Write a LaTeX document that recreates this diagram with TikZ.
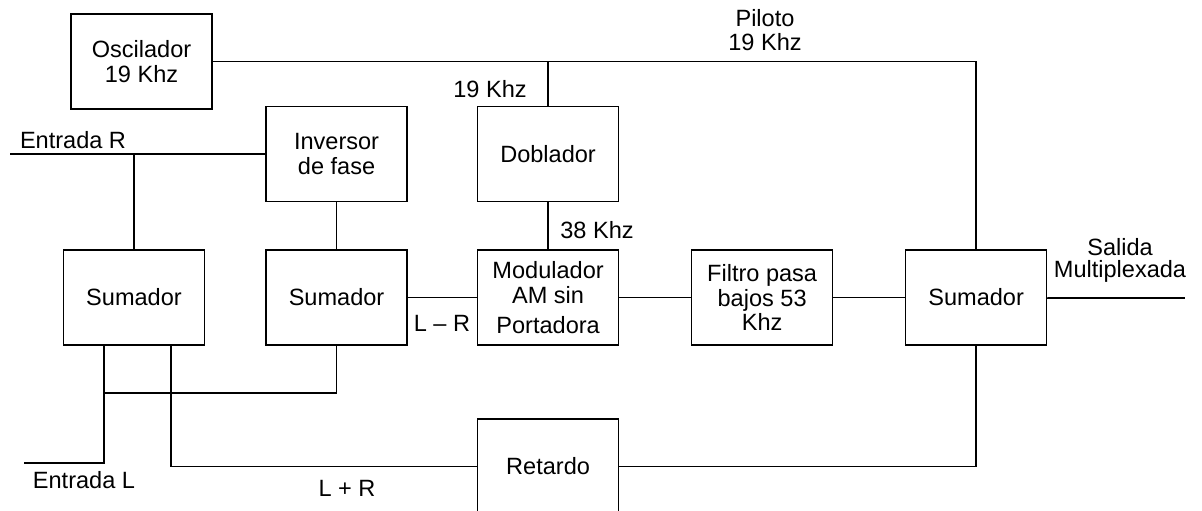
\documentclass[tikz,border=0pt]{standalone}
\usepackage{fontspec}
\setmainfont{Liberation Sans}
\usetikzlibrary{positioning,calc}

\begin{document}
\begin{tikzpicture}[x=0.02cm, y=-0.02cm, node distance=1.43cm and 1.43cm,
  font=\fontsize{13.4}{14}\selectfont, line width=0.9pt,
  bloque/.style={draw, minimum width=2.82cm, minimum height=1.9cm, inner sep=0pt, align=center},
  etiq/.style={inner sep=0pt, align=center}]
  \clip (0,0) rectangle (1202,510);

  % Define nodes
  \node[bloque] (sum1) at (134,297.5) {Sumador};
  \node[bloque] (sum2) [right=1.2cm of sum1] {Sumador};
  \node[bloque] (mod) [right=1.38cm of sum2] {Modulador\\AM sin\\[0.1cm]Portadora};
  \node[bloque] (fil) [right=of mod] {Filtro pasa\\bajos 53\\Khz};
  \node[bloque] (sum3) [right=of fil] {Sumador};
  \node[bloque] (inv) [above=0.94cm of sum2] {Inversor\\de fase};
  \node[bloque] (dob) [above=0.94cm of mod] {Doblador};
  \node[bloque] (osc) at (141.5,61.5) {Oscilador\\19 Khz};
  \node[bloque] (ret) [below=1.45cm of mod] {Retardo};

  \coordinate (entR) at (10,156);
  \coordinate (entL) at (24,463);
  \coordinate (nudo) at (104,393);
  \coordinate (salida) at (1185,298);

  % Draw lines
  \draw (osc.east) -- (osc.east -| sum3.north) -- (sum3.north);
  \draw (dob.north) -- (dob.north |- osc.east);
  \draw (dob.south) -- (mod.north);
  \draw (entR |- inv.west) -- (inv.west);
  \draw (sum1.north) -- (sum1.north |- inv.west);
  \draw (inv.south) -- (sum2.north);
  \draw (sum2.east) -- (mod.west);
  \draw (mod.east) -- (fil.west);
  \draw (fil.east) -- (sum3.west);
  \draw (sum3.east) -- (salida -| sum3.east) -- (salida);
  \draw ([xshift=-0.6cm]sum1.south) |- (entL);
  \draw (sum2.south) |- (nudo);
  \draw ([xshift=0.74cm]sum1.south) |- (ret.west);
  \draw (sum3.south) |- (ret.east);

  % Add labels
  \node[etiq] (piloto) at (765,30) {Piloto\\19 Khz};
  \node[etiq] (f19) at (490,89) {19 Khz};
  \node[etiq] (f38) at (597,230) {38 Khz};
  \node[etiq] (lmr) at (442,323) {L – R};
  \node[etiq] (lpr) at (347,488) {L + R};
  \node[etiq] (lblR) at (73,140) {Entrada R};
  \node[etiq] (lblL) at (84,480) {Entrada L};
  \node[etiq] (lblS) at (1120,260) {Salida\\[-0.05cm]Multiplexada};
\end{tikzpicture}
\end{document}
